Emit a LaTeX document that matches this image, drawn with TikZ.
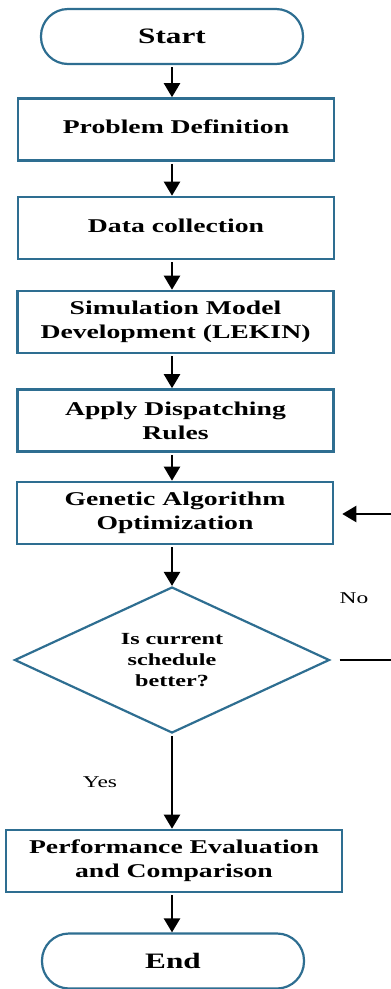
\documentclass[tikz,border=0pt]{standalone}
\usepackage{fontspec}
\newfontfamily\figfont[FakeStretch=1.42]{Liberation Serif}
\usetikzlibrary{arrows.meta,shapes.geometric}
\definecolor{edgeblue}{RGB}{46,110,145}
\tikzset{
  base/.style={draw=edgeblue, fill=white, align=center, inner sep=2pt,
    font=\figfont\bfseries\fontsize{19.5}{24}\selectfont},
  terminal/.style={base, line width=2.2pt, rounded corners=27pt,
    minimum width=262pt, minimum height=55pt,
    font=\figfont\bfseries\fontsize{22}{26}\selectfont},
  procbox/.style={base, line width=2.6pt, minimum width=316pt, minimum height=62pt},
  decision/.style={base, line width=2.2pt, diamond, aspect=2.16,
    minimum width=315pt, minimum height=146pt, inner sep=0pt,
    font=\figfont\bfseries\fontsize{17}{21}\selectfont},
  flow/.style={draw=black, line width=2.3pt, -{Triangle[width=16pt,length=14pt]}},
  plain/.style={draw=black, line width=1.8pt},
  note/.style={font=\figfont\fontsize{16.5}{18}\selectfont, text=black}
}
\begin{document}
\begin{tikzpicture}[x=1pt, y=-1pt]
  \useasboundingbox (0,0) rectangle (391,989);
  \node[terminal] (start) at (172,36.5) {Start};
  \node[procbox] (prob) at (176,129.5) {\raisebox{5pt}{Problem Definition}};
  \node[procbox] (data) at (176,228) {\raisebox{5pt}{Data collection}};
  \node[procbox] (sim) at (175.5,322) {Simulation Model\\Development (LEKIN)};
  \node[procbox] (apply) at (175.5,420.5) {Apply Dispatching\\Rules};
  \node[procbox] (gen) at (175,513) {Genetic Algorithm\\Optimization};
  \node[decision] (dec) at (172,660) {Is current\\schedule\\better?};
  \node[procbox, minimum width=336pt] (perf) at (174,861) {Performance Evaluation\\and Comparison};
  \node[terminal] (stop) at (173,961) {End};

  \draw[flow, shorten <=2pt] (start.south -| 172,0) -- (prob.north -| 172,0);
  \draw[flow, shorten <=2pt] (prob.south -| 172,0) -- (data.north -| 172,0);
  \draw[flow, shorten <=2pt] (data.south -| 172,0) -- (sim.north -| 172,0);
  \draw[flow, shorten <=2pt] (sim.south -| 172,0) -- (apply.north -| 172,0);
  \draw[flow, shorten <=2pt] (apply.south -| 172,0) -- (gen.north -| 172,0);
  \draw[flow, shorten <=2pt] (gen.south -| 172,0) -- (dec.north);
  \draw[flow, shorten <=2pt] (dec.south) -- (perf.north -| 172,0);
  \draw[flow, shorten <=2pt] (perf.south -| 172,0) -- (stop.north -| 172,0);

  % loop back to the optimisation step
  \coordinate (noOut) at (391,660);
  \coordinate (noIn) at (391,514);
  \draw[plain, shorten <=9pt] (dec.east) -- (noOut);
  \draw[flow, shorten >=8pt] (noIn) -- (gen.east |- noIn);

  \node[note] (nolabel) at (354,598) {No};
  \node[note] (yeslabel) at (100,782) {Yes};
\end{tikzpicture}
\end{document}
